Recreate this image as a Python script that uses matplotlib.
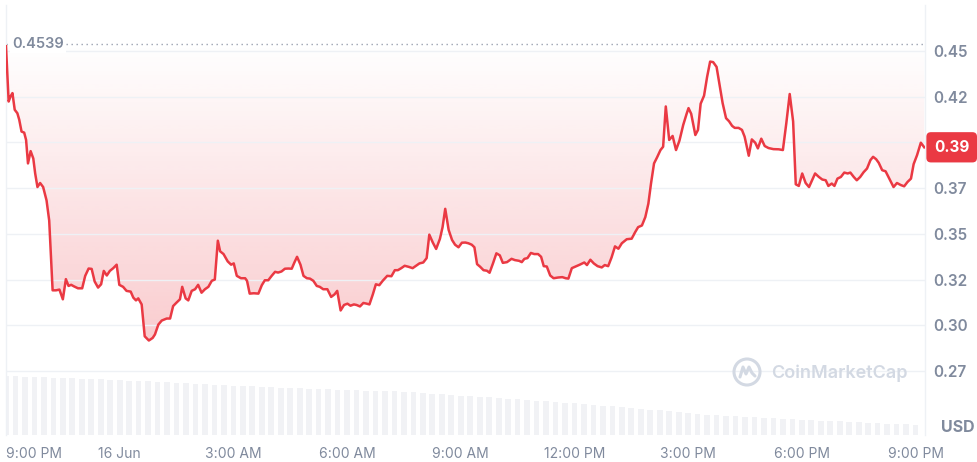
import numpy as np
import matplotlib
matplotlib.use("Agg")
import matplotlib.pyplot as plt
from matplotlib.patches import Polygon, Circle
from matplotlib.path import Path
from matplotlib.patches import PathPatch
from matplotlib.colors import to_rgb
from matplotlib.transforms import blended_transform_factory, IdentityTransform
import math

# ---------------- data ----------------
# hours after 9:00 PM (15 Jun)
hours = [
    0.00, 0.07, 0.12, 0.17, 0.23, 0.30, 0.35, 0.41, 0.48, 0.53,
    0.58, 0.65, 0.72, 0.77, 0.83, 0.90, 0.98, 1.07, 1.14, 1.23,
    1.32, 1.41, 1.50, 1.58, 1.65, 1.72, 1.79, 1.90, 2.01, 2.09,
    2.18, 2.26, 2.34, 2.43, 2.51, 2.58, 2.66, 2.74, 2.83, 2.92,
    2.99, 3.09, 3.18, 3.29, 3.36, 3.43, 3.49, 3.58, 3.66, 3.77,
    3.87, 3.93, 4.02, 4.11, 4.24, 4.33, 4.41, 4.50, 4.59, 4.65,
    4.74, 4.81, 4.90, 4.99, 5.07, 5.16, 5.25, 5.34, 5.43, 5.51,
    5.59, 5.65, 5.74, 5.85, 5.94, 6.01, 6.09, 6.20, 6.31, 6.36,
    6.43, 6.54, 6.66, 6.75, 6.83, 6.92, 7.01, 7.10, 7.18, 7.27,
    7.36, 7.45, 7.54, 7.61, 7.68, 7.77, 7.85, 7.94, 8.02, 8.11,
    8.20, 8.28, 8.37, 8.48, 8.58, 8.67, 8.74, 8.83, 8.92, 9.01,
    9.09, 9.18, 9.25, 9.34, 9.43, 9.52, 9.59, 9.68, 9.76, 9.85,
    9.94, 10.06, 10.17, 10.26, 10.34, 10.43, 10.52, 10.63, 10.73, 10.82,
    10.91, 11.01, 11.10, 11.17, 11.26, 11.35, 11.45, 11.52, 11.59, 11.68,
    11.77, 11.85, 11.94, 12.03, 12.12, 12.20, 12.29, 12.36, 12.43, 12.51,
    12.60, 12.69, 12.76, 12.85, 12.94, 13.03, 13.11, 13.22, 13.34, 13.43,
    13.54, 13.61, 13.68, 13.76, 13.85, 13.94, 14.04, 14.12, 14.19, 14.27,
    14.36, 14.45, 14.57, 14.68, 14.77, 14.84, 14.93, 15.01, 15.14, 15.26,
    15.33, 15.42, 15.51, 15.61, 15.72, 15.80, 15.89, 15.98, 16.07, 16.16,
    16.25, 16.38, 16.51, 16.60, 16.68, 16.78, 16.87, 16.95, 17.02, 17.10,
    17.18, 17.27, 17.34, 17.41, 17.50, 17.59, 17.68, 17.77, 17.87, 17.96,
    18.01, 18.08, 18.19, 18.26, 18.33, 18.42, 18.50, 18.58, 18.66, 18.75,
    18.82, 18.91, 19.00, 19.08, 19.16, 19.23, 19.33, 19.42, 19.49, 19.60,
    19.68, 19.77, 19.84, 19.93, 20.02, 20.12, 20.25, 20.39, 20.50, 20.59,
    20.68, 20.77, 20.84, 20.92, 21.01, 21.10, 21.19, 21.27, 21.35, 21.45,
    21.54, 21.63, 21.70, 21.79, 21.86, 21.94, 22.03, 22.12, 22.21, 22.28,
    22.37, 22.45, 22.54, 22.63, 22.72, 22.81, 22.88, 22.96, 23.03, 23.12,
    23.21, 23.32, 23.42, 23.51, 23.61, 23.70, 23.79, 23.88, 23.95, 24.04,
    24.14, 24.23,
]
price = [
    0.4525, 0.4223, 0.4251, 0.4269, 0.4178, 0.4159, 0.4123, 0.4059, 0.4053, 0.4013,
    0.3885, 0.3952, 0.3912, 0.3830, 0.3756, 0.3778, 0.3756, 0.3683, 0.3573, 0.3192,
    0.3192, 0.3196, 0.3143, 0.3253, 0.3216, 0.3222, 0.3214, 0.3203, 0.3203, 0.3271,
    0.3311, 0.3309, 0.3240, 0.3207, 0.3225, 0.3298, 0.3273, 0.3298, 0.3313, 0.3332,
    0.3222, 0.3211, 0.3189, 0.3185, 0.3152, 0.3137, 0.3148, 0.3115, 0.2941, 0.2918,
    0.2932, 0.2951, 0.3005, 0.3027, 0.3038, 0.3038, 0.3106, 0.3125, 0.3143, 0.3211,
    0.3148, 0.3137, 0.3189, 0.3198, 0.3222, 0.3179, 0.3198, 0.3211, 0.3244, 0.3251,
    0.3463, 0.3405, 0.3390, 0.3350, 0.3332, 0.3339, 0.3271, 0.3258, 0.3258, 0.3244,
    0.3174, 0.3176, 0.3174, 0.3220, 0.3247, 0.3247, 0.3271, 0.3293, 0.3289, 0.3295,
    0.3310, 0.3311, 0.3310, 0.3344, 0.3375, 0.3332, 0.3271, 0.3258, 0.3256, 0.3244,
    0.3216, 0.3211, 0.3198, 0.3198, 0.3156, 0.3170, 0.3189, 0.3082, 0.3112, 0.3119,
    0.3108, 0.3115, 0.3112, 0.3104, 0.3123, 0.3119, 0.3115, 0.3170, 0.3225, 0.3220,
    0.3244, 0.3271, 0.3269, 0.3302, 0.3302, 0.3313, 0.3326, 0.3320, 0.3313, 0.3326,
    0.3339, 0.3344, 0.3368, 0.3496, 0.3454, 0.3418, 0.3473, 0.3537, 0.3637, 0.3522,
    0.3467, 0.3441, 0.3427, 0.3452, 0.3453, 0.3449, 0.3441, 0.3427, 0.3335, 0.3321,
    0.3302, 0.3299, 0.3288, 0.3339, 0.3394, 0.3383, 0.3342, 0.3346, 0.3364, 0.3357,
    0.3353, 0.3346, 0.3364, 0.3368, 0.3396, 0.3390, 0.3390, 0.3375, 0.3324, 0.3322,
    0.3273, 0.3258, 0.3262, 0.3264, 0.3258, 0.3256, 0.3313, 0.3320, 0.3332, 0.3344,
    0.3330, 0.3359, 0.3339, 0.3324, 0.3317, 0.3330, 0.3324, 0.3372, 0.3432, 0.3419,
    0.3449, 0.3471, 0.3474, 0.3509, 0.3537, 0.3546, 0.3592, 0.3665, 0.3775, 0.3885,
    0.3918, 0.3958, 0.3976, 0.4196, 0.4013, 0.4035, 0.3958, 0.4009, 0.4095, 0.4156,
    0.4187, 0.4156, 0.4040, 0.4068, 0.4211, 0.4255, 0.4357, 0.4441, 0.4438, 0.4412,
    0.4324, 0.4214, 0.4132, 0.4115, 0.4090, 0.4079, 0.4079, 0.4068, 0.4031, 0.3927,
    0.4016, 0.3998, 0.3967, 0.4020, 0.3980, 0.3969, 0.3963, 0.3962, 0.3958, 0.4104,
    0.4264, 0.4114, 0.3771, 0.3762, 0.3830, 0.3778, 0.3756, 0.3793, 0.3830, 0.3811,
    0.3797, 0.3793, 0.3762, 0.3775, 0.3762, 0.3802, 0.3811, 0.3835, 0.3830, 0.3835,
    0.3811, 0.3793, 0.3811, 0.3837, 0.3857, 0.3903, 0.3921, 0.3908, 0.3888, 0.3848,
    0.3842, 0.3797, 0.3756, 0.3778, 0.3767, 0.3760, 0.3784, 0.3802, 0.3881, 0.3930,
    0.3998, 0.3973,
]
ref_price = 0.4539

# volume, one bar per 15 minutes (arbitrary units)
volume = [
    5.9, 5.9, 5.85, 5.8, 5.8, 5.75, 5.7, 5.7, 5.65, 5.6, 5.6, 5.55,
    5.5, 5.45, 5.4, 5.4, 5.35, 5.3, 5.2, 5.2, 5.15, 5.1, 5.05, 5.0,
    4.95, 4.9, 4.9, 4.85, 4.8, 4.75, 4.7, 4.7, 4.65, 4.6, 4.6, 4.55,
    4.55, 4.5, 4.45, 4.45, 4.4, 4.4, 4.35, 4.3, 4.2, 4.15, 4.1, 4.05,
    3.95, 3.9, 3.85, 3.8, 3.7, 3.65, 3.6, 3.5, 3.45, 3.4, 3.35, 3.25,
    3.2, 3.1, 3.05, 2.95, 2.9, 2.8, 2.7, 2.65, 2.55, 2.5, 2.4, 2.35,
    2.25, 2.15, 2.05, 2.0, 1.95, 1.9, 1.85, 1.8, 1.75, 1.7, 1.65, 1.6,
    1.55, 1.5, 1.45, 1.4, 1.4, 1.35, 1.3, 1.25, 1.2, 1.15, 1.1, 1.1,
    1.05,
]
vol_step_h = 0.25

xtick_hours = [0, 3, 6, 9, 12, 15, 18, 21, 24]
xtick_labels = ["9:00 PM", "16 Jun", "3:00 AM", "6:00 AM", "9:00 AM",
                "12:00 PM", "3:00 PM", "6:00 PM", "9:00 PM"]
# the 0.40 level is covered by the current-price tag in the reference
ytick_vals = [0.275, 0.300, 0.325, 0.350, 0.375, 0.400, 0.425, 0.450]
ytick_labels = ["0.27", "0.30", "0.32", "0.35", "0.37", "", "0.42", "0.45"]

# ---------------- style ----------------
RED = "#ea3943"
GREY = "#808a9d"
GRID = "#eef1f5"
FONT = ["Inter", "DejaVu Sans"]
plt.rcParams["font.family"] = FONT

W, H = 977, 462
fig = plt.figure(figsize=(W / 100, H / 100), dpi=100)
fig.patch.set_facecolor("white")

ax_pos = [6 / W, 27 / H, 919 / W, 430 / H]
axv = fig.add_axes(ax_pos)
ax = fig.add_axes(ax_pos)
axv.set_zorder(0)
ax.set_zorder(1)
ax.patch.set_visible(False)

XMAX = 24.25
YLO, YHI = 0.2402, 0.475

# volume bars
vx = np.arange(len(volume)) * vol_step_h
axv.bar(vx, volume, width=vol_step_h * 0.6, color="#f1f2f5", linewidth=0, align="center")
axv.set_xlim(0, XMAX)
axv.set_ylim(0, 43)
axv.axis("off")

# gradient fill between price and reference line
rgb = to_rgb(RED)
n = 400
grad = np.zeros((n, 1, 4))
grad[..., :3] = rgb
yy = np.linspace(YLO, ref_price, n)
alpha = 0.34 * (ref_price - yy) / (ref_price - YLO)
grad[:, 0, 3] = np.clip(alpha, 0, 1)
im = ax.imshow(grad, extent=(0, XMAX, YLO, ref_price), origin="lower",
               aspect="auto", zorder=1, interpolation="bilinear")
verts = list(zip(hours, price)) + [(hours[-1], ref_price), (hours[0], ref_price)]
clip = Polygon(verts, closed=True, facecolor="none", edgecolor="none", transform=ax.transData)
ax.add_patch(clip)
im.set_clip_path(clip)

# price line
ax.plot(hours, price, color=RED, lw=1.8, zorder=3, solid_joinstyle="round")

# reference dotted line + label
ax.axhline(ref_price, color="#9aa2b1", lw=1.0, ls=(0, (1, 2.6)), zorder=2)
ax.annotate(f"{ref_price:.4f}", xy=(0, ref_price),
            xycoords=blended_transform_factory(ax.transAxes, ax.transData),
            xytext=(6, 0), textcoords="offset pixels", ha="left", va="center",
            fontsize=10.5, color=GREY, fontweight="semibold", zorder=4,
            bbox=dict(boxstyle="square,pad=0.15", fc="white", ec="none"))

ax.set_xlim(0, XMAX)
ax.set_ylim(YLO, YHI)

# grid / ticks
ax.set_yticks(ytick_vals)
ax.set_yticklabels(ytick_labels)
ax.yaxis.tick_right()
ax.grid(axis="y", color=GRID, lw=1.0, zorder=0)
ax.set_xticks(xtick_hours)
ax.set_xticklabels(xtick_labels)
ax.tick_params(axis="y", length=0, pad=6, labelsize=11, labelcolor=GREY)
ax.tick_params(axis="x", length=0, pad=9, labelsize=10, labelcolor=GREY)
for lab in ax.get_yticklabels():
    lab.set_fontweight("semibold")
xl = ax.get_xticklabels()
xl[0].set_ha("left")

for side in ["top", "bottom"]:
    ax.spines[side].set_visible(False)
for side in ["left", "right"]:
    ax.spines[side].set_color("#eef1f5")
    ax.spines[side].set_linewidth(1.0)

# current price tag
last = price[-1]
tag = f"{math.floor(last * 100) / 100:.2f}"
ax.annotate(tag, xy=(1, last),
            xycoords=blended_transform_factory(ax.transAxes, ax.transData),
            xytext=(9, 0), textcoords="offset pixels", ha="left", va="center",
            fontsize=11, color="white", fontweight="bold", zorder=10,
            annotation_clip=False,
            bbox=dict(boxstyle="round,pad=0.5,rounding_size=0.3", fc=RED, ec="none"))

# USD label
fig.text(975 / W, (H - 428) / H, "USD", ha="right", va="center",
         fontsize=11.5, color=GREY, fontweight="bold")

# watermark
wm_col = "#d3d9e3"
fig.text(771 / W, (H - 373) / H, "CoinMarketCap", ha="left", va="center",
         fontsize=13, color=wm_col, fontweight="semibold")
cx, cy, r = 747, H - 372, 13
fig.patches.append(Circle((cx, cy), r, transform=IdentityTransform(), fill=False,
                          ec=wm_col, lw=2.2, figure=fig))
mpath = Path([(cx - 7, cy - 5), (cx - 4, cy + 5), (cx - 1, cy - 2), (cx + 2, cy + 5),
              (cx + 5, cy - 1), (cx + 8, cy - 4)])
fig.patches.append(PathPatch(mpath, transform=IdentityTransform(), fill=False,
                             ec=wm_col, lw=2.2, capstyle="round", joinstyle="round", figure=fig))

fig.savefig("out.png", dpi=100, facecolor="white")
